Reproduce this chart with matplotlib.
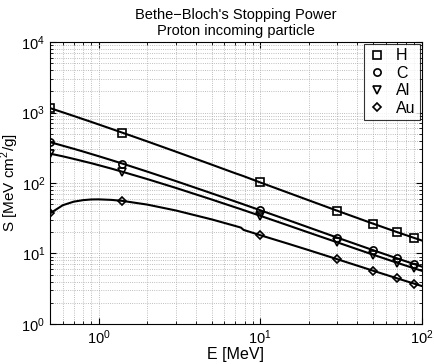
import numpy as np
import matplotlib
matplotlib.use('Agg')
import matplotlib.pyplot as plt

plt.rcParams['font.family'] = ['Liberation Sans', 'DejaVu Sans']
plt.rcParams['mathtext.fontset'] = 'custom'
plt.rcParams['mathtext.rm'] = 'Liberation Sans'

# curve energies (MeV) and stopping power (MeV cm2/g)
energy = [0.5, 0.6, 0.7, 0.8, 0.9, 1.0, 1.2, 1.4, 2, 3, 5, 7, 7.6, 7.9,
          10, 15, 20, 30, 50, 70, 90, 100]
s_h = [1155, 1006, 894, 806, 736, 677, 586, 518, 389, 279, 182.5, 137.6, 129, 125,
       101.9, 72.4, 56.8, 40.4, 26.5, 20.2, 16.6, 15.3]
s_c = [380, 338, 306, 280, 258, 240, 211, 189, 145, 106.6, 71.5, 54.7, 51.3, 49.7,
       41.1, 29.6, 23.4, 16.8, 11.15, 8.56, 7.07, 6.53]
s_al = [261, 239, 220, 204, 191, 179, 160, 144.5, 113.7, 85.3, 58.4, 45.2, 42.5, 41.2,
        34.3, 24.9, 19.8, 14.4, 9.62, 7.42, 6.15, 5.69]
s_au = [37.0, 48.4, 54.3, 57.1, 58.4, 58.6, 57.6, 55.8, 49.4, 40.8, 30.5, 24.6, 23.3, 21.6,
        18.2, 13.7, 11.15, 8.3, 5.7, 4.46, 3.73, 3.46]

# marked points
e_mark = [0.5, 1.4, 10, 30, 50, 70, 90]
m_h = [1155, 518, 101.9, 40.4, 26.5, 20.2, 16.6]
m_c = [380, 189, 41.1, 16.8, 11.15, 8.56, 7.07]
m_al = [261, 144.5, 34.3, 14.4, 9.62, 7.42, 6.15]
m_au = [37.0, 55.8, 18.2, 8.3, 5.7, 4.46, 3.73]

labels = ['H', 'C', 'Al', 'Au']
markers = ['s', 'o', 'v', 'D']

fig = plt.figure(figsize=(4.34, 3.64), dpi=100)
ax = fig.add_axes([0.1152, 0.1099, 0.8565, 0.7747])

for s in [s_h, s_c, s_al, s_au]:
    ax.plot(energy, s, color='k', lw=1.5)

for m, mk, lab in zip([m_h, m_c, m_al, m_au], markers, labels):
    ms = 4.5 if mk == 'D' else 5.2
    ax.plot(e_mark, m, ls='none', marker=mk, ms=ms, mfc='none', mec='k',
            mew=1.2, label=lab)

ax.set_xscale('log')
ax.set_yscale('log')
ax.set_xlim(0.5, 100)
ax.set_ylim(1, 1e4)
ax.grid(True, which='both', ls=':', color='#a8a8a8', lw=0.6)
ax.tick_params(which='both', direction='in', top=True, right=True, labelsize=10.5)
ax.tick_params(which='major', length=4)
ax.tick_params(which='minor', length=2)
for sp in ax.spines.values():
    sp.set_linewidth(0.8)

ax.set_xlabel('E [MeV]', fontsize=11.5, labelpad=0)
ax.set_ylabel('S [MeV cm$^2$/g]', fontsize=11)
ax.yaxis.set_label_coords(-0.077, 0.5)
ax.set_title("Bethe\u2212Bloch's Stopping Power\nProton incoming particle",
             fontsize=10.5, linespacing=1.15, pad=5)

leg = ax.legend(loc='upper right', fontsize=11.5, frameon=True, fancybox=False,
                edgecolor='k', handlelength=1.1, handletextpad=0.6,
                borderpad=0.3, labelspacing=0.15, borderaxespad=0.1)
leg.get_frame().set_linewidth(0.8)

fig.savefig('out.png', dpi=100)
